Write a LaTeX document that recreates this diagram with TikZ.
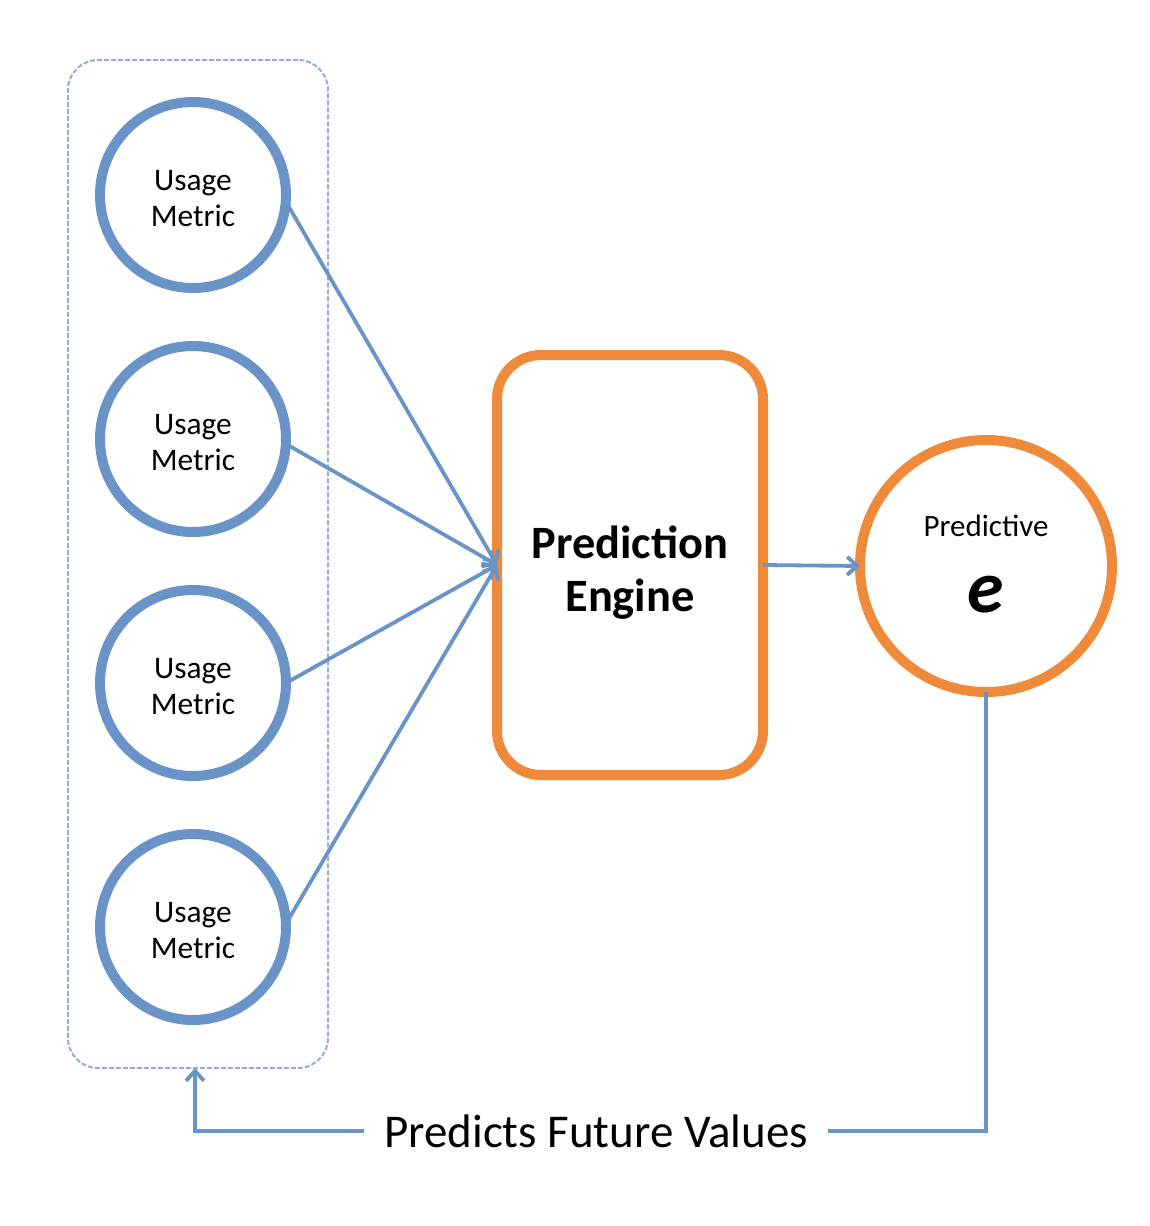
\documentclass[tikz,border=0pt]{standalone}
\usepackage{fontspec}
\setmainfont{Carlito}
\usetikzlibrary{arrows.meta,positioning,shadows}
\definecolor{mblue}{HTML}{6A93C8}
\definecolor{lblue}{HTML}{93AFD8}
\definecolor{morange}{HTML}{EE8A3A}
\tikzset{
  softshadow/.style={drop shadow={opacity=0.18,shadow xshift=0.8pt,shadow yshift=-1.6pt}},
  usage/.style={circle,draw=mblue,line width=5pt,minimum size=93pt,inner sep=0pt,outer sep=0pt,fill=white,softshadow},
  utext/.style={align=center,inner sep=0pt,font=\fontsize{15.7}{18}\selectfont,yshift=-2pt},
  engine/.style={rectangle,rounded corners=22pt,draw=morange,line width=5pt,minimum width=133pt,minimum height=210pt,
    outer sep=0pt,fill=white,softshadow},
  etext/.style={align=center,inner sep=0pt,font=\fontsize{23.2}{26.5}\selectfont\bfseries,yshift=-4pt},
  predc/.style={circle,draw=morange,line width=5pt,minimum size=126pt,inner sep=0pt,outer sep=0pt,fill=white,softshadow},
  group/.style={rectangle,rounded corners=15pt,draw=lblue,line width=1pt,dash pattern=on 2.5pt off 1pt,
    minimum width=130pt,minimum height=504pt,outer sep=0pt},
  conn/.style={draw=mblue,line width=1.9pt,-{Straight Barb[length=5pt,width=9pt,line width=1.9pt]}},
  plain/.style={draw=mblue,line width=1.9pt},
}
\begin{document}
\begin{tikzpicture}[x=0.5pt,y=-0.5pt]
\useasboundingbox (0,0) rectangle (1150,1226);
\node[group] (grp) at (198,564) {};
\foreach \i/\y in {1/195,2/439,3/683,4/927}{
  \node[usage] (u\i) at (193,\y) {};
  \node[utext] (t\i) at (u\i) {Usage\\Metric};
}
\node[engine] (eng) at (630,565) {};
\node[etext] (etxt) at (eng) {Prediction\\Engine};
\node[predc] (pred) at (986,566) {};
\node[anchor=base,font=\fontsize{15.5}{18}\selectfont] (ptext) at (986,536) {Predictive};
\node[anchor=base,font=\fontsize{37}{40}\selectfont\bfseries\itshape] (pe) at (986,612) {e};
\node[font=\fontsize{23.5}{27}\selectfont,inner xsep=10pt] (fb) at (596,1131) {Predicts Future Values};
\coordinate (fbtip) at (195,1068);
\foreach \i/\a in {1/-4,2/-3,3/0,4/2}{
  \draw[conn] (u\i.\a) -- (eng.west);
}
\draw[conn] (eng.east) -- (pred.west);
\draw[plain] (pred.south) |- (fb.east);
\draw[conn] (fb.west) -| (fbtip);
\end{tikzpicture}
\end{document}
